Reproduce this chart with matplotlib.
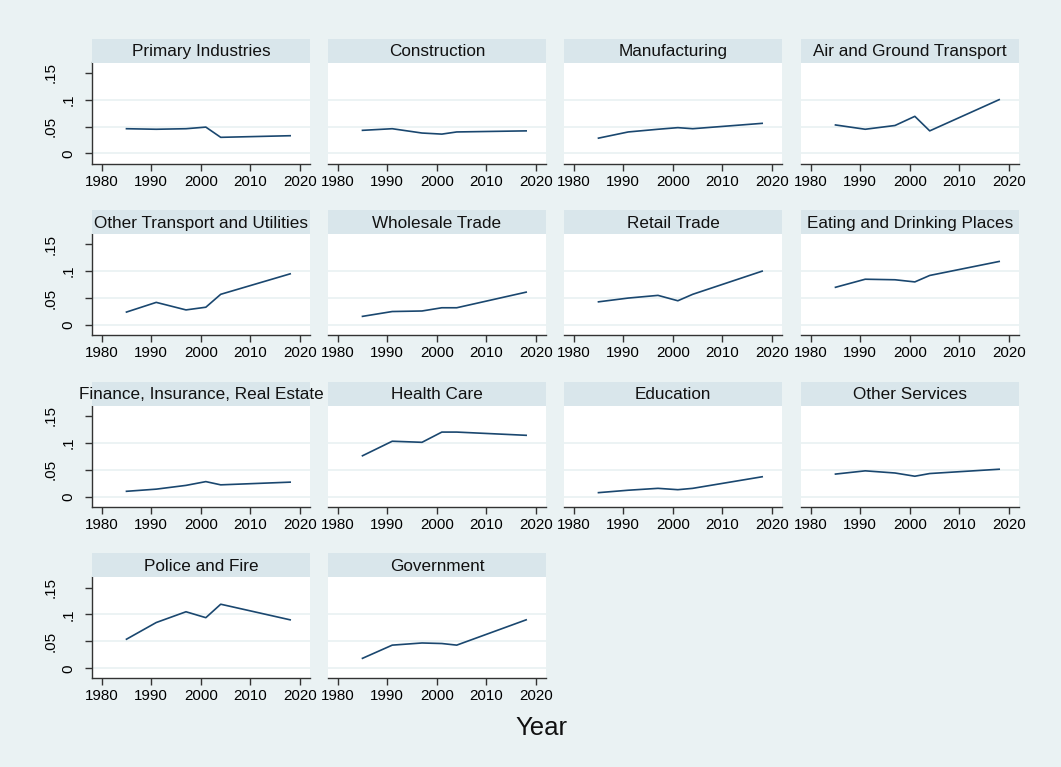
import matplotlib
matplotlib.use("Agg")
import matplotlib.pyplot as plt

plt.rcParams['font.family'] = ['Liberation Sans', 'DejaVu Sans']

years = [1985, 1991, 1997, 2001, 2004, 2018]

industries = [
    "Primary Industries", "Construction", "Manufacturing", "Air and Ground Transport",
    "Other Transport and Utilities", "Wholesale Trade", "Retail Trade", "Eating and Drinking Places",
    "Finance, Insurance, Real Estate", "Health Care", "Education", "Other Services",
    "Police and Fire", "Government",
]

primary = [0.046, 0.045, 0.046, 0.049, 0.030, 0.033]
construction = [0.043, 0.046, 0.038, 0.036, 0.040, 0.042]
manufacturing = [0.0285, 0.040, 0.045, 0.048, 0.046, 0.056]
air_ground = [0.053, 0.045, 0.052, 0.069, 0.042, 0.100]
other_transport = [0.024, 0.042, 0.028, 0.033, 0.057, 0.095]
wholesale = [0.016, 0.025, 0.026, 0.032, 0.032, 0.061]
retail = [0.043, 0.050, 0.055, 0.045, 0.057, 0.100]
eating = [0.070, 0.085, 0.084, 0.080, 0.092, 0.118]
finance = [0.010, 0.014, 0.021, 0.028, 0.022, 0.027]
health = [0.076, 0.103, 0.101, 0.120, 0.120, 0.114]
education = [0.0075, 0.012, 0.0155, 0.013, 0.0155, 0.037]
other_services = [0.042, 0.048, 0.044, 0.038, 0.043, 0.051]
police_fire = [0.054, 0.085, 0.105, 0.094, 0.119, 0.090]
government = [0.0185, 0.043, 0.047, 0.046, 0.043, 0.090]

series = [primary, construction, manufacturing, air_ground,
          other_transport, wholesale, retail, eating,
          finance, health, education, other_services,
          police_fire, government]

xticks = [1980, 1990, 2000, 2010, 2020]
yticks = [0, 0.05, 0.1, 0.15]
ytick_labels = ["0", ".05", ".1", ".15"]

BG = "#EAF2F3"
STRIP = "#D9E6EB"
LINE = "#1A476F"
W, H = 1061, 767

fig = plt.figure(figsize=(W / 100, H / 100), dpi=100, facecolor=BG)

col_left = [92, 328, 564, 801]
pw = 218
ph = 101
sh = 24
row_bottom = [163.5, 335.0, 506.7, 678.3]

for i, (name, vals) in enumerate(zip(industries, series)):
    r, c = divmod(i, 4)
    x0 = col_left[c]
    yb = row_bottom[r]
    ax = fig.add_axes([x0 / W, 1 - yb / H, pw / W, ph / H])
    ax.set_facecolor("white")
    for g in [0, 0.05, 0.1]:
        ax.axhline(g, color=BG, lw=1.3, zorder=1)
    ax.plot(years, vals, color=LINE, lw=1.2, zorder=3)
    ax.set_xlim(1978.05, 2022.0)
    ax.set_ylim(-0.0186, 0.169)
    ax.set_xticks(xticks)
    ax.set_xticklabels([str(t) for t in xticks])
    ax.tick_params(axis='x', length=5, width=1, color="#333333", labelsize=10.9, pad=3)
    for s in ["top", "right"]:
        ax.spines[s].set_visible(False)
    ax.spines["bottom"].set_color("#333333")
    ax.spines["bottom"].set_linewidth(1.0)
    if c == 0:
        ax.spines["left"].set_color("#333333")
        ax.spines["left"].set_linewidth(1.0)
        ax.set_yticks(yticks)
        ax.set_yticklabels(ytick_labels, rotation=90, va="center")
        ax.tick_params(axis='y', length=5, width=1, color="#333333", labelsize=10.9)
        for k, t in enumerate(ax.yaxis.get_major_ticks()):
            t.set_pad(7 if k % 2 == 0 else 20)
    else:
        ax.spines["left"].set_visible(False)
        ax.set_yticks([])

    # strip
    sax = fig.add_axes([x0 / W, 1 - (yb - ph) / H, pw / W, sh / H])
    sax.set_facecolor(STRIP)
    sax.set_xticks([])
    sax.set_yticks([])
    for s in sax.spines.values():
        s.set_visible(False)
    sax.text(0.5, 0.45, name, ha="center", va="center", fontsize=12.3,
             color="#111111", transform=sax.transAxes, clip_on=False)

fig.text(541 / W, 1 - 728 / H, "Year", ha="center", va="center", fontsize=18.5, color="#111111")

fig.savefig("out.png", dpi=100, facecolor=BG)
